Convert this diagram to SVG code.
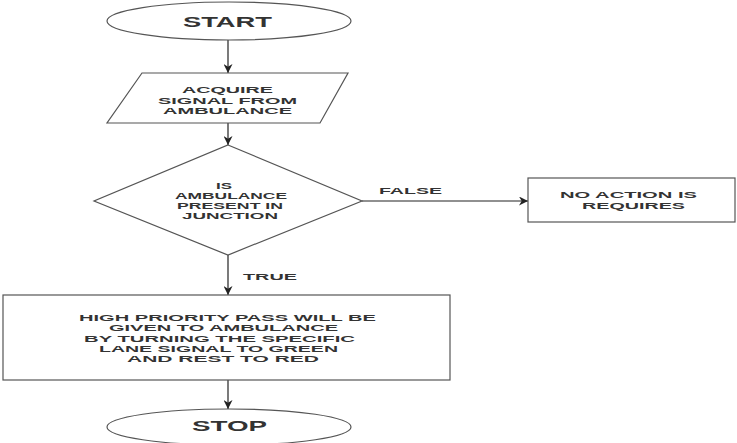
<svg xmlns="http://www.w3.org/2000/svg" width="737" height="443" viewBox="0 0 737 443">
<style>
.shape{fill:#fff;stroke:#555;stroke-width:1.2}
.conn{fill:none;stroke:#222;stroke-width:1.2}
text{font-family:"Liberation Sans",Arial,sans-serif;font-weight:bold;fill:#333}
.t14{font-size:14px}
.t11{font-size:9.8px}
.t10{font-size:9.5px}
.t9{font-size:9.5px}
.t8{font-size:8.5px}
</style>
<defs>
<marker id="arr" viewBox="0 0 10 10" refX="10" refY="5" markerWidth="9" markerHeight="9" markerUnits="userSpaceOnUse" orient="auto">
<path d="M0,0 L10,5 L0,10 L3,5 Z" fill="#222"/>
</marker>
</defs>
<rect width="737" height="443" fill="#fff"/>
<g id="connectors">
<line class="conn" x1="228" y1="40" x2="228" y2="73" marker-end="url(#arr)"/>
<line class="conn" x1="228" y1="123" x2="228" y2="145" marker-end="url(#arr)"/>
<line class="conn" x1="362" y1="201" x2="528" y2="201" marker-end="url(#arr)"/>
<line class="conn" x1="228" y1="255" x2="228" y2="295" marker-end="url(#arr)"/>
<line class="conn" x1="228" y1="380" x2="228" y2="409" marker-end="url(#arr)"/>
<text class="t10" x="379" y="194" textLength="63" lengthAdjust="spacingAndGlyphs">FALSE</text>
<text class="t10" x="243" y="280" textLength="54" lengthAdjust="spacingAndGlyphs">TRUE</text>
</g>
<g id="start">
<ellipse class="shape" cx="229" cy="21" rx="122" ry="19"/>
<text class="t14" x="183" y="27" textLength="89" lengthAdjust="spacingAndGlyphs">START</text>
</g>
<g id="acquire">
<polygon class="shape" points="142,73 348,73 320,123 107,123"/>
<text class="t11" x="182" y="93" textLength="91" lengthAdjust="spacingAndGlyphs">ACQUIRE</text>
<text class="t11" x="158" y="103.5" textLength="139" lengthAdjust="spacingAndGlyphs">SIGNAL FROM</text>
<text class="t11" x="163" y="113.8" textLength="129" lengthAdjust="spacingAndGlyphs">AMBULANCE</text>
</g>
<g id="decision">
<polygon class="shape" points="228,145 362,201 228,255 94,201"/>
<text class="t8" x="216" y="188.5" textLength="16" lengthAdjust="spacingAndGlyphs">IS</text>
<text class="t8" x="175" y="198.5" textLength="112" lengthAdjust="spacingAndGlyphs">AMBULANCE</text>
<text class="t8" x="177" y="208.5" textLength="106" lengthAdjust="spacingAndGlyphs">PRESENT IN</text>
<text class="t8" x="182" y="218.5" textLength="96" lengthAdjust="spacingAndGlyphs">JUNCTION</text>
</g>
<g id="noaction">
<rect class="shape" x="528" y="178" width="207" height="44"/>
<text class="t9" x="560" y="198" textLength="137" lengthAdjust="spacingAndGlyphs">NO ACTION IS</text>
<text class="t9" x="582" y="209" textLength="103" lengthAdjust="spacingAndGlyphs">REQUIRES</text>
</g>
<g id="priority">
<rect class="shape" x="3" y="295" width="447" height="85"/>
<text class="t10" x="79" y="321" textLength="297" lengthAdjust="spacingAndGlyphs">HIGH PRIORITY PASS WILL BE</text>
<text class="t10" x="109" y="331.2" textLength="229" lengthAdjust="spacingAndGlyphs">GIVEN TO AMBULANCE</text>
<text class="t10" x="84" y="341.5" textLength="271" lengthAdjust="spacingAndGlyphs">BY TURNING THE SPECIFIC</text>
<text class="t10" x="99" y="351.8" textLength="239" lengthAdjust="spacingAndGlyphs">LANE SIGNAL TO GREEN</text>
<text class="t10" x="127" y="362" textLength="192" lengthAdjust="spacingAndGlyphs">AND REST TO RED</text>
</g>
<g id="stop">
<ellipse class="shape" cx="229" cy="427" rx="122" ry="18"/>
<text class="t14" x="192" y="431" textLength="75" lengthAdjust="spacingAndGlyphs">STOP</text>
</g>
</svg>
